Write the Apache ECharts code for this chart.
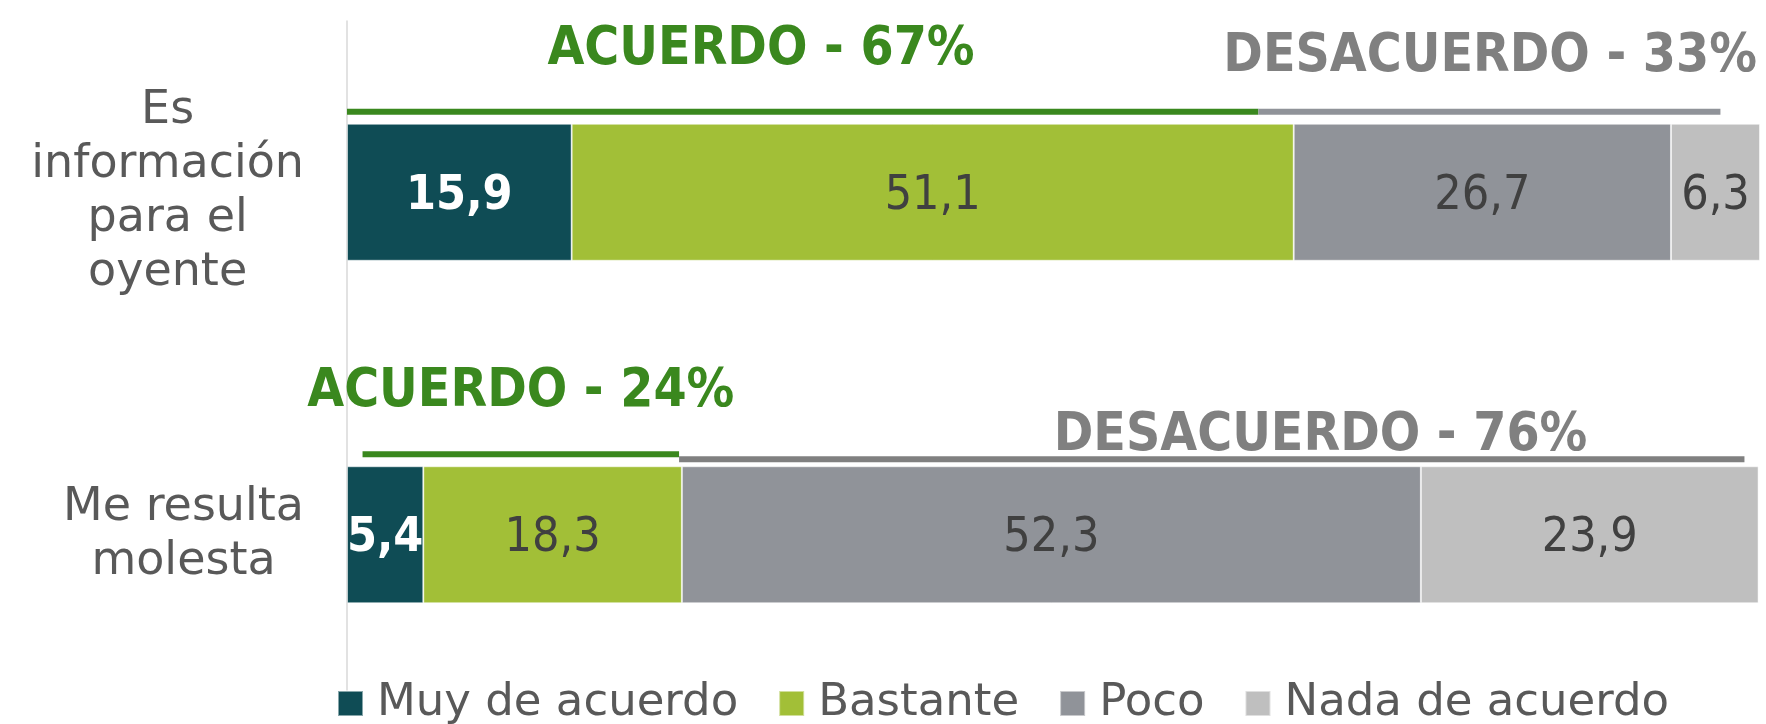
<!DOCTYPE html>
<html>
<head>
<meta charset="utf-8">
<script src="https://cdn.jsdelivr.net/npm/echarts@6/dist/echarts.min.js"></script>
<style>
  html, body { margin: 0; padding: 0; background: #fff; }
  #chart { width: 1766px; height: 724px; }
</style>
</head>
<body>
<div id="chart"></div>
<script>
// data
const categories = ['Es\ninformación\npara el\noyente', 'Me resulta\nmolesta'];
const seriesNames = ['Muy de acuerdo', 'Bastante', 'Poco', 'Nada de acuerdo'];
const muyDeAcuerdo = [15.9, 5.4];
const bastante = [51.1, 18.3];
const poco = [26.7, 52.3];
const nadaDeAcuerdo = [6.3, 23.9];
const groupLabels = [['ACUERDO - 67%', 'DESACUERDO - 33%'], ['ACUERDO - 24%', 'DESACUERDO - 76%']];
// brackets drawn above each bar (start / end in % of the axis)
const groupSpans = [[[0, 64.5], [64.5, 97.2]], [[1.1, 23.5], [23.5, 98.9]]];

const colors = ['#0F4C55', '#A2BF37', '#909399', '#BFBFBF'];
const condensed = '"DejaVu Sans Condensed", "Liberation Sans Narrow", "DejaVu Sans", sans-serif';
const plain = '"DejaVu Sans", sans-serif';

// where the group titles sit: x in axis %, dy in px from the bar top
const titleX = [[29.3, 80.9], [12.3, 68.9]];
const titleDy = [[-74, -67], [-74, -30]];
const lineDy = [[-12, -12], [-12, -7]];
const lineColors = [['#3A881E', '#909399'], ['#3A881E', '#808080']];
const titleColors = ['#3A881E', '#808080'];

const chart = echarts.init(document.getElementById('chart'));

const valueSeries = [muyDeAcuerdo, bastante, poco, nadaDeAcuerdo].map((vals, i) => ({
  name: seriesNames[i],
  type: 'bar',
  stack: 'total',
  barWidth: '40%',
  data: vals,
  itemStyle: { color: colors[i], borderColor: 'rgba(255,255,255,0.5)', borderWidth: 1 },
  label: {
    show: true,
    position: 'inside',
    offset: [0, 4],
    fontFamily: condensed,
    fontSize: 48,
    fontWeight: i === 0 ? 'bold' : 'normal',
    color: i === 0 ? '#ffffff' : '#404040',
    formatter: p => String(p.value).replace('.', ',')
  }
}));

const bracketData = [];
groupSpans.forEach((row, r) => row.forEach((span, k) => bracketData.push([span[0], span[1], r, k])));

const bracketSeries = {
  type: 'custom',
  silent: true,
  clip: false,
  encode: { x: [0, 1], y: 2 },
  data: bracketData,
  renderItem: function (params, api) {
    const r = api.value(2), k = api.value(3);
    const p0 = api.coord([api.value(0), r]);
    const p1 = api.coord([api.value(1), r]);
    const barH = api.size([0, 1])[1] * 0.4;
    const top = p0[1] - barH / 2;
    const tx = api.coord([titleX[r][k], r])[0];
    return {
      type: 'group',
      children: [
        {
          type: 'line',
          shape: { x1: p0[0], y1: top + lineDy[r][k], x2: p1[0], y2: top + lineDy[r][k] },
          style: { stroke: lineColors[r][k], lineWidth: 6 }
        },
        {
          type: 'text',
          style: {
            text: groupLabels[r][k],
            x: tx,
            y: top + titleDy[r][k],
            align: 'center',
            verticalAlign: 'middle',
            fill: titleColors[k],
            fontFamily: condensed,
            fontWeight: 'bold',
            fontSize: 53
          }
        }
      ]
    };
  }
};

const option = {
  animation: false,
  color: colors,
  grid: { left: 347, right: 6, top: 21, bottom: 18 },
  legend: {
    data: seriesNames,
    left: 337,
    top: 681,
    padding: 0,
    icon: 'rect',
    itemWidth: 25,
    itemHeight: 25,
    itemGap: 40,
    textStyle: { fontFamily: plain, fontSize: 45, color: '#595959', padding: [0, 0, 0, 9] }
  },
  xAxis: { type: 'value', min: 0, max: 100, show: false },
  yAxis: {
    type: 'category',
    inverse: true,
    data: categories,
    axisTick: { show: false },
    axisLine: { lineStyle: { color: '#d9d9d9', width: 1.5 } },
    axisLabel: {
      margin: 43,
      align: 'right',
      formatter: v => v.split('\n').map(s => '{a|' + s + '}').join('\n'),
      rich: {
        a: { align: 'center', fontFamily: plain, fontSize: 46, lineHeight: 54, color: '#595959' }
      }
    }
  },
  series: valueSeries.concat([bracketSeries])
};

chart.setOption(option);
window.onresize = function () { chart.resize(); };
</script>
</body>
</html>
